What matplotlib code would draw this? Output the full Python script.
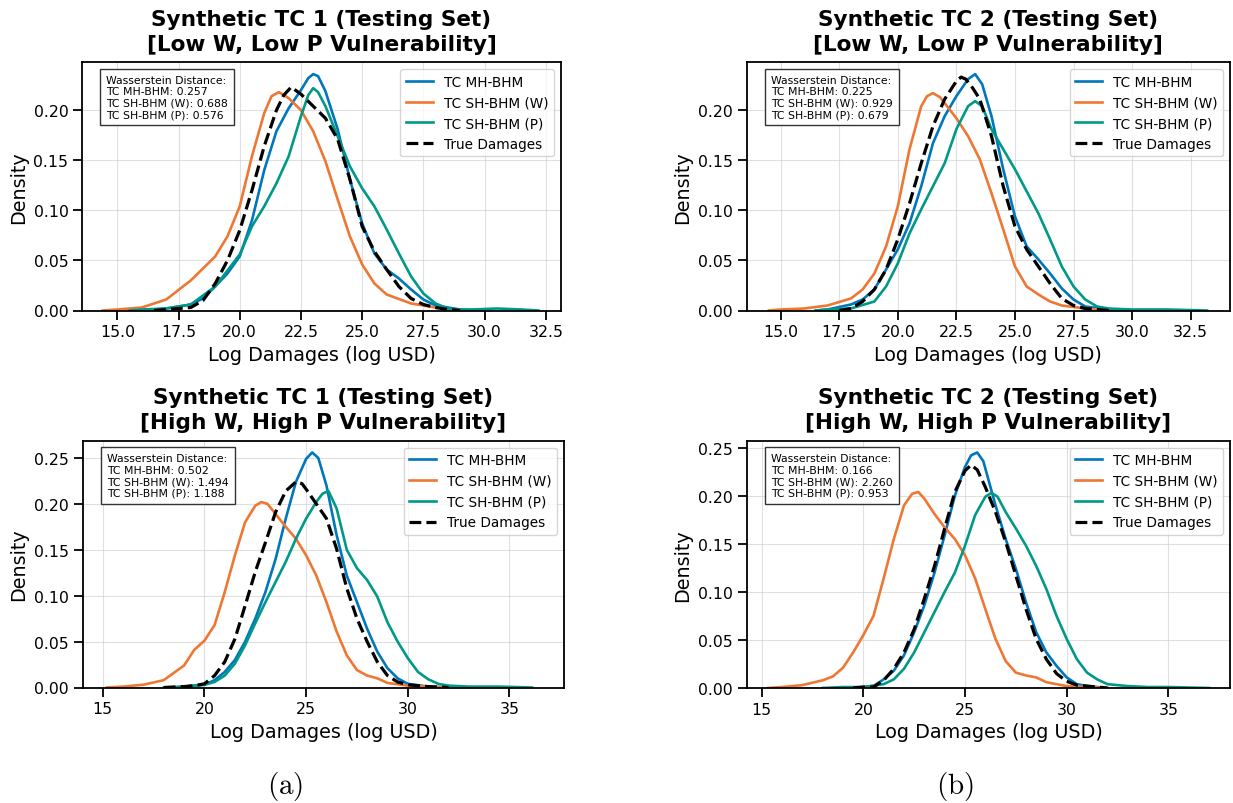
import matplotlib
matplotlib.use("Agg")
import matplotlib.pyplot as plt

# ---------------- data ----------------
labels = ["TC MH-BHM", "TC SH-BHM (W)", "TC SH-BHM (P)", "True Damages"]

titles = [
    "Synthetic TC 1 (Testing Set)\n[Low W, Low P Vulnerability]",
    "Synthetic TC 2 (Testing Set)\n[Low W, Low P Vulnerability]",
    "Synthetic TC 1 (Testing Set)\n[High W, High P Vulnerability]",
    "Synthetic TC 2 (Testing Set)\n[High W, High P Vulnerability]",
]

wasserstein = [
    [0.257, 0.688, 0.576],
    [0.225, 0.929, 0.679],
    [0.502, 1.494, 1.188],
    [0.166, 2.260, 0.953],
]

# Panel 1: TC 1, low vulnerability
p1_mh_x = [16.0, 17, 18, 18.5, 19, 19.5, 20, 20.5, 21, 21.5, 22, 22.5, 22.8, 23, 23.2, 23.5, 24, 24.5, 25, 25.5, 26, 26.5, 27, 27.5, 28, 29, 30]
p1_mh_y = [0, 0.002, 0.006, 0.012, 0.024, 0.037, 0.054, 0.09, 0.14, 0.179, 0.202, 0.22, 0.232, 0.236, 0.234, 0.219, 0.181, 0.131, 0.087, 0.057, 0.041, 0.032, 0.021, 0.011, 0.005, 0.001, 0]
p1_w_x = [14.4, 15, 16, 17, 18, 19, 19.5, 20, 20.5, 21, 21.3, 21.6, 22, 22.5, 23, 23.5, 24, 24.5, 25, 25.5, 26, 27, 28, 28.6]
p1_w_y = [0, 0.001, 0.003, 0.011, 0.03, 0.054, 0.074, 0.104, 0.154, 0.197, 0.214, 0.218, 0.212, 0.20, 0.179, 0.149, 0.111, 0.074, 0.046, 0.027, 0.016, 0.007, 0.003, 0.001]
p1_p_x = [15.5, 16, 17, 18, 19, 20, 20.5, 21, 21.5, 22, 22.5, 22.8, 23.0, 23.2, 23.5, 24, 24.5, 25, 25.5, 26, 26.5, 27, 27.5, 28, 28.5, 29, 29.5, 30.5, 31.5, 32.2]
p1_p_y = [0, 0.001, 0.002, 0.006, 0.024, 0.056, 0.084, 0.104, 0.127, 0.154, 0.194, 0.215, 0.222, 0.218, 0.204, 0.174, 0.144, 0.122, 0.104, 0.081, 0.057, 0.034, 0.017, 0.007, 0.002, 0.001, 0.001, 0.002, 0.001, 0]
p1_t_x = [16.5, 17, 18, 18.5, 19, 19.5, 20, 20.5, 21, 21.5, 21.8, 22.1, 22.5, 23, 23.5, 24, 24.5, 25, 25.5, 26, 26.5, 27, 27.5, 28, 28.5, 29]
p1_t_y = [0, 0.001, 0.003, 0.01, 0.027, 0.05, 0.08, 0.12, 0.164, 0.20, 0.215, 0.223, 0.216, 0.204, 0.192, 0.171, 0.131, 0.084, 0.059, 0.041, 0.024, 0.012, 0.006, 0.003, 0.001, 0]

# Panel 2: TC 2, low vulnerability
p2_mh_x = [16.5, 17, 18, 18.5, 19, 19.5, 20, 20.5, 21, 21.5, 22, 22.5, 23, 23.3, 23.6, 24, 24.5, 25, 25.5, 26, 26.5, 27, 27.5, 28, 29, 30]
p2_mh_y = [0, 0.001, 0.006, 0.011, 0.021, 0.041, 0.061, 0.087, 0.124, 0.167, 0.194, 0.214, 0.231, 0.236, 0.226, 0.194, 0.141, 0.094, 0.064, 0.051, 0.037, 0.022, 0.011, 0.004, 0.001, 0]
p2_w_x = [14.5, 15, 16, 17, 18, 18.5, 19, 19.5, 20, 20.5, 21, 21.25, 21.5, 21.8, 22, 22.5, 23, 23.5, 24, 24.5, 25, 25.5, 26, 26.5, 27, 28, 29]
p2_w_y = [0, 0.001, 0.002, 0.005, 0.012, 0.021, 0.037, 0.064, 0.104, 0.161, 0.204, 0.214, 0.217, 0.213, 0.207, 0.192, 0.174, 0.151, 0.117, 0.081, 0.044, 0.024, 0.016, 0.009, 0.005, 0.002, 0]
p2_p_x = [16.5, 17, 18, 19, 19.5, 20, 20.5, 21, 21.5, 22, 22.5, 23, 23.3, 23.6, 24, 24.5, 25, 25.5, 26, 26.5, 27, 27.5, 28, 28.5, 29, 30, 31.5, 33.2]
p2_p_y = [0, 0.001, 0.002, 0.009, 0.024, 0.047, 0.077, 0.101, 0.124, 0.147, 0.181, 0.204, 0.209, 0.204, 0.181, 0.161, 0.141, 0.119, 0.097, 0.071, 0.044, 0.024, 0.011, 0.004, 0.002, 0.001, 0.001, 0]
p2_t_x = [17.5, 18, 18.5, 19, 19.5, 20, 20.5, 21, 21.5, 22, 22.5, 22.7, 22.9, 23.2, 23.5, 24, 24.5, 25, 25.5, 26, 26.5, 27, 27.5, 28, 29]
p2_t_y = [0, 0.002, 0.009, 0.021, 0.041, 0.071, 0.107, 0.147, 0.184, 0.211, 0.229, 0.233, 0.231, 0.222, 0.211, 0.174, 0.124, 0.084, 0.061, 0.044, 0.027, 0.012, 0.005, 0.002, 0]

# Panel 3: TC 1, high vulnerability
p3_mh_x = [18.5, 19, 20, 20.5, 21, 21.5, 22, 22.5, 23, 23.5, 24, 24.5, 25, 25.3, 25.6, 26, 26.5, 27, 27.5, 28, 28.5, 29, 29.5, 30, 31, 32]
p3_mh_y = [0, 0.001, 0.003, 0.008, 0.017, 0.03, 0.05, 0.075, 0.104, 0.14, 0.184, 0.224, 0.249, 0.256, 0.25, 0.22, 0.166, 0.122, 0.093, 0.064, 0.039, 0.021, 0.01, 0.004, 0.001, 0]
p3_w_x = [15.2, 16, 17, 18, 19, 19.5, 20, 20.5, 21, 21.5, 22, 22.5, 22.8, 23.1, 23.5, 24, 24.5, 25, 25.5, 26, 26.5, 27, 27.5, 28, 28.5, 29, 30, 31, 32]
p3_w_y = [0, 0.001, 0.003, 0.008, 0.024, 0.041, 0.051, 0.068, 0.104, 0.144, 0.18, 0.198, 0.202, 0.2, 0.189, 0.175, 0.162, 0.144, 0.122, 0.093, 0.061, 0.035, 0.019, 0.013, 0.01, 0.005, 0.002, 0.001, 0]
p3_p_x = [18, 19, 20, 20.5, 21, 21.5, 22, 22.5, 23, 23.5, 24, 24.5, 25, 25.5, 25.8, 26.1, 26.5, 27, 27.5, 28, 28.5, 29, 29.5, 30, 30.5, 31, 31.5, 32, 33, 34.5, 36.1]
p3_p_y = [0, 0.001, 0.003, 0.006, 0.013, 0.026, 0.046, 0.07, 0.093, 0.115, 0.137, 0.162, 0.184, 0.202, 0.211, 0.214, 0.195, 0.15, 0.13, 0.117, 0.099, 0.071, 0.05, 0.032, 0.017, 0.009, 0.004, 0.002, 0.001, 0.001, 0]
p3_t_x = [18, 19, 19.5, 20, 20.5, 21, 21.5, 22, 22.5, 23, 23.5, 24, 24.5, 24.8, 25, 25.5, 26, 26.5, 27, 27.5, 28, 28.5, 29, 29.5, 30, 31, 32]
p3_t_y = [0, 0.001, 0.002, 0.004, 0.013, 0.028, 0.053, 0.089, 0.126, 0.158, 0.191, 0.214, 0.224, 0.222, 0.216, 0.2, 0.184, 0.151, 0.108, 0.075, 0.05, 0.028, 0.013, 0.006, 0.003, 0.001, 0]

# Panel 4: TC 2, high vulnerability
p4_mh_x = [19.5, 20, 20.5, 21, 21.5, 22, 22.5, 23, 23.5, 24, 24.5, 25, 25.3, 25.6, 25.9, 26.5, 27, 27.5, 28, 28.5, 29, 29.5, 30, 30.5, 31, 32]
p4_mh_y = [0, 0.001, 0.002, 0.009, 0.018, 0.034, 0.058, 0.086, 0.12, 0.159, 0.2, 0.23, 0.242, 0.245, 0.236, 0.19, 0.155, 0.124, 0.089, 0.058, 0.037, 0.023, 0.011, 0.004, 0.002, 0]
p4_w_x = [15.3, 16, 16.5, 17, 18, 18.5, 19, 19.5, 20, 20.5, 21, 21.5, 22, 22.4, 22.7, 23, 23.5, 24, 24.5, 25, 25.5, 26, 26.5, 27, 27.5, 28, 28.5, 29, 30, 31, 32]
p4_w_y = [0, 0.001, 0.002, 0.003, 0.008, 0.012, 0.021, 0.037, 0.055, 0.075, 0.114, 0.155, 0.19, 0.202, 0.204, 0.197, 0.181, 0.167, 0.155, 0.138, 0.114, 0.082, 0.051, 0.028, 0.016, 0.013, 0.011, 0.006, 0.002, 0.001, 0]
p4_p_x = [18, 19, 20, 21, 21.5, 22, 22.5, 23, 23.5, 24, 24.5, 25, 25.5, 26, 26.3, 26.6, 27, 27.5, 28, 28.5, 29, 29.5, 30, 30.5, 31, 31.5, 32, 33, 34, 35, 37]
p4_p_y = [0, 0.001, 0.001, 0.004, 0.009, 0.02, 0.037, 0.058, 0.079, 0.1, 0.12, 0.148, 0.18, 0.199, 0.203, 0.199, 0.183, 0.166, 0.148, 0.127, 0.103, 0.075, 0.051, 0.03, 0.016, 0.009, 0.004, 0.002, 0.001, 0.001, 0]
p4_t_x = [19.5, 20, 20.5, 21, 21.5, 22, 22.5, 23, 23.5, 24, 24.5, 25, 25.3, 25.6, 26, 26.5, 27, 27.5, 28, 28.5, 29, 29.5, 30, 30.5, 31, 32]
p4_t_y = [0, 0.001, 0.001, 0.008, 0.02, 0.037, 0.061, 0.093, 0.127, 0.166, 0.204, 0.226, 0.232, 0.227, 0.209, 0.183, 0.152, 0.117, 0.082, 0.051, 0.03, 0.015, 0.007, 0.003, 0.002, 0]

panels = [
    [(p1_mh_x, p1_mh_y), (p1_w_x, p1_w_y), (p1_p_x, p1_p_y), (p1_t_x, p1_t_y)],
    [(p2_mh_x, p2_mh_y), (p2_w_x, p2_w_y), (p2_p_x, p2_p_y), (p2_t_x, p2_t_y)],
    [(p3_mh_x, p3_mh_y), (p3_w_x, p3_w_y), (p3_p_x, p3_p_y), (p3_t_x, p3_t_y)],
    [(p4_mh_x, p4_mh_y), (p4_w_x, p4_w_y), (p4_p_x, p4_p_y), (p4_t_x, p4_t_y)],
]

xlims = [(13.57, 33.11), (13.55, 34.18), (14.03, 37.68), (14.28, 38.03)]
xticks = [
    [15.0, 17.5, 20.0, 22.5, 25.0, 27.5, 30.0, 32.5],
    [15.0, 17.5, 20.0, 22.5, 25.0, 27.5, 30.0, 32.5],
    [15, 20, 25, 30, 35],
    [15, 20, 25, 30, 35],
]
xtick_fmt = ["{:.1f}", "{:.1f}", "{:.0f}", "{:.0f}"]
captions = ["(a)", "(b)"]

# ---------------- style ----------------
colors = ["#0077BB", "#EE7733", "#009988", "black"]
styles = ["-", "-", "-", "--"]
widths = [1.9, 1.9, 1.9, 2.3]

W, H = 1233, 804
fig = plt.figure(figsize=(W / 100, H / 100), dpi=100)

boxes_px = [
    (82.3, 560.7, 63.3, 311.5),
    (746.7, 1230.0, 63.3, 311.5),
    (83.0, 564.0, 441.7, 688.5),
    (747.0, 1230.0, 441.7, 689.0),
]

for i, (l, r, t, b) in enumerate(boxes_px):
    ax = fig.add_axes([l / W, 1 - b / H, (r - l) / W, (b - t) / H])
    for (xs, ys), lab, c, ls, lw in zip(panels[i], labels, colors, styles, widths):
        ax.plot(xs, ys, color=c, linestyle=ls, linewidth=lw, label=lab,
                solid_joinstyle="round", dash_joinstyle="round")
    ax.set_xlim(*xlims[i])
    ymax = max(max(ys) for _, ys in panels[i])
    ax.set_ylim(0, ymax * 1.05)
    ax.set_xticks(xticks[i])
    ax.set_xticklabels([xtick_fmt[i].format(v) for v in xticks[i]])
    ax.yaxis.set_major_formatter(matplotlib.ticker.StrMethodFormatter("{x:.2f}"))
    ax.tick_params(axis="both", labelsize=11.3, length=6.5, width=1.3, direction="out")
    for sp in ax.spines.values():
        sp.set_linewidth(1.3)
    ax.grid(True, color="#cccccc", alpha=0.6, linewidth=0.8)
    ax.set_axisbelow(True)
    ax.set_xlabel("Log Damages (log USD)", fontsize=13.8)
    ax.set_ylabel("Density", fontsize=13.8)
    ax.set_title(titles[i], fontsize=15.6, fontweight="bold", linespacing=1.3, pad=9)
    ax.legend(loc="upper right", fontsize=9.8)
    mh, w, p = wasserstein[i]
    txt = ("Wasserstein Distance:\n"
           f"TC MH-BHM: {mh:.3f}\n"
           f"TC SH-BHM (W): {w:.3f}\n"
           f"TC SH-BHM (P): {p:.3f}")
    ax.text(0.05, 0.95, txt, transform=ax.transAxes, fontsize=7.8, va="top", ha="left",
            linespacing=1.2,
            bbox=dict(boxstyle="square,pad=0.55", facecolor="white", edgecolor="#333333", linewidth=1.0))

for cx, cap in zip([285, 955], captions):
    fig.text(cx / W, 1 - 787 / H, r"$\mathrm{" + cap + "}$", fontsize=21, ha="center", va="center",
             math_fontfamily="cm")

fig.savefig("out.png", dpi=100)
